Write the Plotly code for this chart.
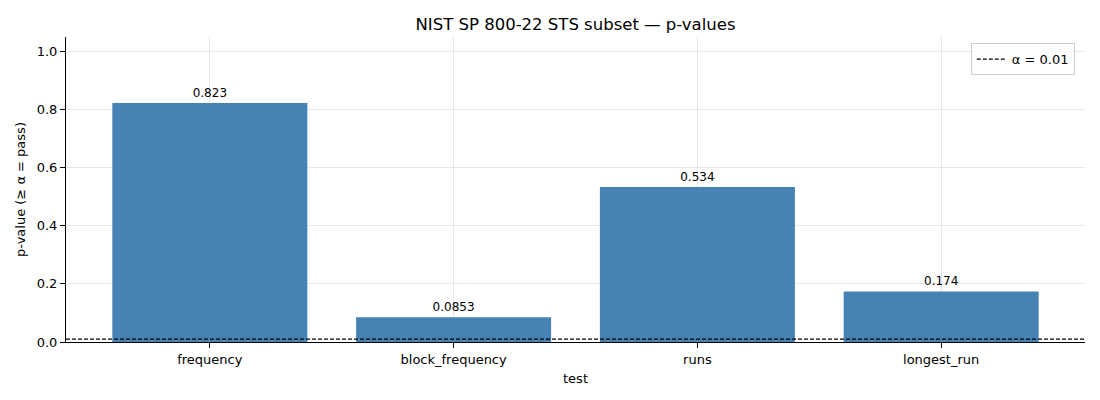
import plotly.graph_objects as go

tests = ["frequency", "block_frequency", "runs", "longest_run"]
p_values = [0.823, 0.0853, 0.534, 0.174]
labels = ["0.823", "0.0853", "0.534", "0.174"]
alpha = 0.01

x_lo, x_hi = -0.59, len(tests) - 1 + 0.59

fig = go.Figure()
fig.add_trace(go.Bar(
    x=list(range(len(tests))), y=p_values, width=0.8,
    marker=dict(color="#4682B4", line=dict(width=0)),
    text=labels, textposition="outside", cliponaxis=False,
    textfont=dict(size=12, color="black"),
    showlegend=False,
))
fig.add_trace(go.Scatter(
    x=[x_lo, x_hi], y=[alpha, alpha], mode="lines",
    line=dict(color="black", width=1.2, dash="4px,2px"),
    name=f"α = {alpha}",
))

# page body has an 8px margin, so shift the margins to compensate
fig.update_layout(
    width=1100, height=400,
    margin=dict(l=58, r=23, t=29, b=66),
    plot_bgcolor="white", paper_bgcolor="white",
    font=dict(family="DejaVu Sans", size=13, color="black"),
    title=dict(text="NIST SP 800-22 STS subset — p-values", x=0.5, xref="paper",
               xanchor="center", y=1, yref="paper", yanchor="bottom",
               pad=dict(b=7), font=dict(size=16.5)),
    legend=dict(x=0.99, y=0.98, xanchor="right", yanchor="top",
                bordercolor="#cccccc", borderwidth=1, bgcolor="rgba(255,255,255,0.8)",
                font=dict(size=13)),
    bargap=0.2,
)
fig.update_xaxes(
    range=[x_lo, x_hi], tickvals=list(range(len(tests))), ticktext=tests,
    title=dict(text="test", font=dict(size=13), standoff=8),
    showline=True, linecolor="black", linewidth=1,
    ticks="outside", ticklen=5, tickcolor="black",
    showgrid=True, gridcolor="#e6e6e6", gridwidth=1, layer="above traces",
    zeroline=False,
)
fig.update_yaxes(
    range=[0, 1.05], tickvals=[0, 0.2, 0.4, 0.6, 0.8, 1.0],
    ticktext=["0.0", "0.2", "0.4", "0.6", "0.8", "1.0"],
    title=dict(text="p-value (≥ α = pass)", font=dict(size=13), standoff=8),
    showline=True, linecolor="black", linewidth=1,
    ticks="outside", ticklen=5, tickcolor="black",
    showgrid=True, gridcolor="#e6e6e6", gridwidth=1, layer="above traces",
    zeroline=False,
)

fig.write_html("out.html")
